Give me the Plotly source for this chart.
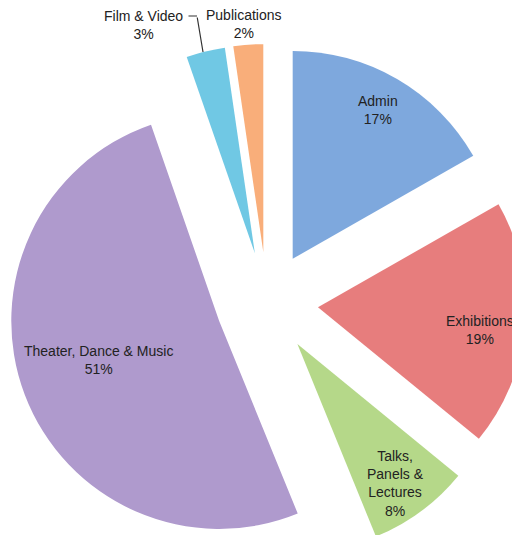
import plotly.graph_objects as go

# slice shares (labels show the rounded percentages)
labels = ["Admin", "Exhibitions", "Talks,<br>Panels &<br>Lectures",
          "Theater, Dance & Music", "Film & Video", "Publications"]
values = [16.7, 19.1, 7.9, 50.7, 3.0, 2.3]
colors = ["#7ea8dd", "#e77d7d", "#b5d889", "#af9acd", "#70c8e4", "#f9ae7a"]

# figure geometry (pixels); the page body adds an 8px offset
OFF = 8
W, H = 520, 559
L, R, T, B = 0, 2, 36, 5
PW, PH = W - L - R, H - T - B

def px(x, y):
    """screen pixel -> paper coords"""
    x, y = x - OFF, y - OFF
    return (x - L) / PW, 1 - (y - T) / PH

fig = go.Figure(go.Pie(
    labels=labels,
    values=values,
    sort=False,
    direction="clockwise",
    rotation=0,
    pull=0.246,
    marker=dict(colors=colors, line=dict(width=0)),
    textinfo="none",
    showlegend=False,
    hoverinfo="label+percent",
))

total = sum(values)
# label centre positions (screen pixels) for each slice's text
label_pos = [(378, 110), (480, 330), (395, 483), (98, 360), (143, 25), (244, 24)]
font = dict(family="Liberation Sans, Arial", size=14, color="#222222")
for i, (lab, val) in enumerate(zip(labels, values)):
    x, y = px(*label_pos[i])
    pct = round(100 * val / total)
    fig.add_annotation(x=x, y=y, xref="paper", yref="paper",
                       xanchor="center", yanchor="middle",
                       text=f"{lab}<br>{pct}%", showarrow=False,
                       font=font, align="center")

# leader line for the small "Film & Video" slice
lx, ly = px(203, 52)
fig.add_annotation(x=lx, y=ly, xref="paper", yref="paper",
                   ax=-6, ay=-36, axref="pixel", ayref="pixel",
                   text="", showarrow=True, arrowhead=0, arrowwidth=1.2,
                   arrowcolor="#333333", standoff=0, startstandoff=0)
sx, sy = px(197, 16)
fig.add_annotation(x=sx, y=sy, xref="paper", yref="paper",
                   ax=-10, ay=0, text="", showarrow=True, arrowhead=0,
                   arrowwidth=1.2, arrowcolor="#333333",
                   standoff=0, startstandoff=0)

fig.update_layout(
    width=W, height=H,
    margin=dict(l=L, r=R, t=T, b=B),
    paper_bgcolor="white",
    plot_bgcolor="white",
)

fig.write_html("out.html")
